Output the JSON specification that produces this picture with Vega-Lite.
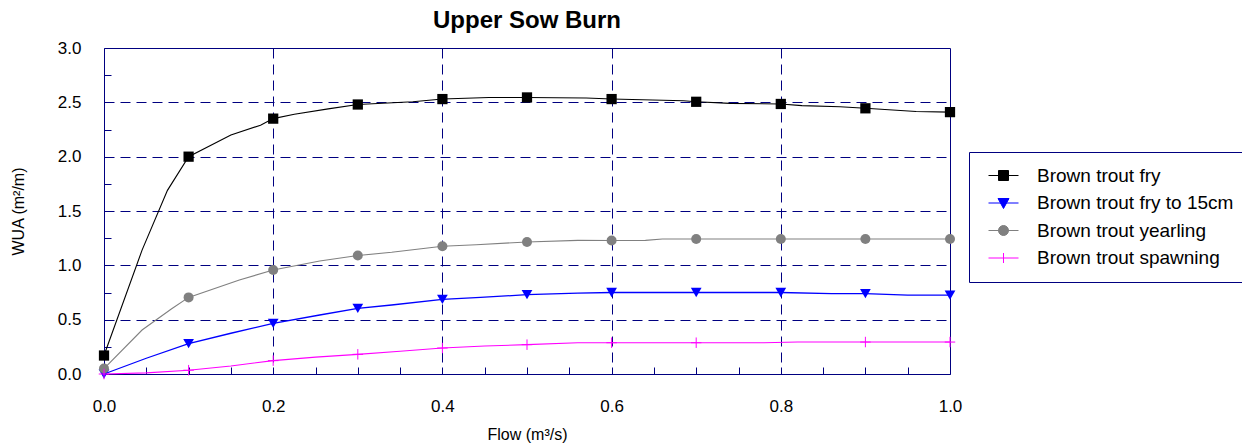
{
  "$schema": "https://vega.github.io/schema/vega-lite/v6.json",
  "width": 846,
  "height": 326,
  "autosize": {"type": "none"},
  "padding": {"left": 104, "top": 48, "right": 292, "bottom": 72},
  "background": "white",
  "config": {
    "view": {"stroke": "#000080", "strokeWidth": 1},
    "font": "Liberation Sans"
  },
  "title": {
    "text": "Upper Sow Burn",
    "font": "Liberation Sans",
    "fontSize": 24,
    "fontWeight": "bold",
    "color": "black",
    "anchor": "middle",
    "frame": "group",
    "baseline": "alphabetic",
    "offset": 10,
    "dy": 23
  },
  "data": {
    "values": [
      {"series": "Brown trout fry", "flow": 0, "wua": 0.17},
      {"series": "Brown trout fry", "flow": 0.045, "wua": 1.14},
      {"series": "Brown trout fry", "flow": 0.075, "wua": 1.69},
      {"series": "Brown trout fry", "flow": 0.1, "wua": 2.0},
      {"series": "Brown trout fry", "flow": 0.15, "wua": 2.2},
      {"series": "Brown trout fry", "flow": 0.185, "wua": 2.29},
      {"series": "Brown trout fry", "flow": 0.2, "wua": 2.35},
      {"series": "Brown trout fry", "flow": 0.225, "wua": 2.39},
      {"series": "Brown trout fry", "flow": 0.265, "wua": 2.44},
      {"series": "Brown trout fry", "flow": 0.3, "wua": 2.48},
      {"series": "Brown trout fry", "flow": 0.365, "wua": 2.505},
      {"series": "Brown trout fry", "flow": 0.4, "wua": 2.53},
      {"series": "Brown trout fry", "flow": 0.455, "wua": 2.545},
      {"series": "Brown trout fry", "flow": 0.5, "wua": 2.545},
      {"series": "Brown trout fry", "flow": 0.57, "wua": 2.54},
      {"series": "Brown trout fry", "flow": 0.6, "wua": 2.53},
      {"series": "Brown trout fry", "flow": 0.685, "wua": 2.515},
      {"series": "Brown trout fry", "flow": 0.7, "wua": 2.505},
      {"series": "Brown trout fry", "flow": 0.74, "wua": 2.49},
      {"series": "Brown trout fry", "flow": 0.8, "wua": 2.485},
      {"series": "Brown trout fry", "flow": 0.825, "wua": 2.47},
      {"series": "Brown trout fry", "flow": 0.87, "wua": 2.46},
      {"series": "Brown trout fry", "flow": 0.9, "wua": 2.445},
      {"series": "Brown trout fry", "flow": 0.96, "wua": 2.415},
      {"series": "Brown trout fry", "flow": 1.0, "wua": 2.41},

      {"series": "Brown trout fry to 15cm", "flow": 0, "wua": 0.0},
      {"series": "Brown trout fry to 15cm", "flow": 0.05, "wua": 0.145},
      {"series": "Brown trout fry to 15cm", "flow": 0.1, "wua": 0.28},
      {"series": "Brown trout fry to 15cm", "flow": 0.15, "wua": 0.375},
      {"series": "Brown trout fry to 15cm", "flow": 0.2, "wua": 0.466},
      {"series": "Brown trout fry to 15cm", "flow": 0.255, "wua": 0.543},
      {"series": "Brown trout fry to 15cm", "flow": 0.3, "wua": 0.604},
      {"series": "Brown trout fry to 15cm", "flow": 0.34, "wua": 0.635},
      {"series": "Brown trout fry to 15cm", "flow": 0.4, "wua": 0.687},
      {"series": "Brown trout fry to 15cm", "flow": 0.445, "wua": 0.705},
      {"series": "Brown trout fry to 15cm", "flow": 0.5, "wua": 0.73},
      {"series": "Brown trout fry to 15cm", "flow": 0.56, "wua": 0.745},
      {"series": "Brown trout fry to 15cm", "flow": 0.6, "wua": 0.75},
      {"series": "Brown trout fry to 15cm", "flow": 0.7, "wua": 0.75},
      {"series": "Brown trout fry to 15cm", "flow": 0.8, "wua": 0.75},
      {"series": "Brown trout fry to 15cm", "flow": 0.86, "wua": 0.74},
      {"series": "Brown trout fry to 15cm", "flow": 0.9, "wua": 0.74},
      {"series": "Brown trout fry to 15cm", "flow": 0.95, "wua": 0.725},
      {"series": "Brown trout fry to 15cm", "flow": 1.0, "wua": 0.725},

      {"series": "Brown trout yearling", "flow": 0, "wua": 0.05},
      {"series": "Brown trout yearling", "flow": 0.045, "wua": 0.405},
      {"series": "Brown trout yearling", "flow": 0.08, "wua": 0.6},
      {"series": "Brown trout yearling", "flow": 0.1, "wua": 0.705},
      {"series": "Brown trout yearling", "flow": 0.16, "wua": 0.865},
      {"series": "Brown trout yearling", "flow": 0.2, "wua": 0.957},
      {"series": "Brown trout yearling", "flow": 0.255, "wua": 1.04},
      {"series": "Brown trout yearling", "flow": 0.3, "wua": 1.09},
      {"series": "Brown trout yearling", "flow": 0.34, "wua": 1.12},
      {"series": "Brown trout yearling", "flow": 0.38, "wua": 1.157},
      {"series": "Brown trout yearling", "flow": 0.4, "wua": 1.175},
      {"series": "Brown trout yearling", "flow": 0.44, "wua": 1.19},
      {"series": "Brown trout yearling", "flow": 0.5, "wua": 1.215},
      {"series": "Brown trout yearling", "flow": 0.56, "wua": 1.23},
      {"series": "Brown trout yearling", "flow": 0.6, "wua": 1.228},
      {"series": "Brown trout yearling", "flow": 0.64, "wua": 1.23},
      {"series": "Brown trout yearling", "flow": 0.66, "wua": 1.242},
      {"series": "Brown trout yearling", "flow": 0.7, "wua": 1.242},
      {"series": "Brown trout yearling", "flow": 0.8, "wua": 1.242},
      {"series": "Brown trout yearling", "flow": 0.9, "wua": 1.242},
      {"series": "Brown trout yearling", "flow": 1.0, "wua": 1.242},

      {"series": "Brown trout spawning", "flow": 0, "wua": 0.0},
      {"series": "Brown trout spawning", "flow": 0.05, "wua": 0.01},
      {"series": "Brown trout spawning", "flow": 0.1, "wua": 0.035},
      {"series": "Brown trout spawning", "flow": 0.15, "wua": 0.074},
      {"series": "Brown trout spawning", "flow": 0.2, "wua": 0.123},
      {"series": "Brown trout spawning", "flow": 0.25, "wua": 0.155},
      {"series": "Brown trout spawning", "flow": 0.3, "wua": 0.181},
      {"series": "Brown trout spawning", "flow": 0.35, "wua": 0.21},
      {"series": "Brown trout spawning", "flow": 0.4, "wua": 0.239},
      {"series": "Brown trout spawning", "flow": 0.45, "wua": 0.258},
      {"series": "Brown trout spawning", "flow": 0.5, "wua": 0.27},
      {"series": "Brown trout spawning", "flow": 0.56, "wua": 0.288},
      {"series": "Brown trout spawning", "flow": 0.6, "wua": 0.288},
      {"series": "Brown trout spawning", "flow": 0.7, "wua": 0.288},
      {"series": "Brown trout spawning", "flow": 0.78, "wua": 0.288},
      {"series": "Brown trout spawning", "flow": 0.82, "wua": 0.294},
      {"series": "Brown trout spawning", "flow": 0.9, "wua": 0.294},
      {"series": "Brown trout spawning", "flow": 1.0, "wua": 0.294}
    ]
  },
  "encoding": {
    "x": {
      "field": "flow",
      "type": "quantitative",
      "title": "Flow (m³/s)",
      "scale": {"domain": [0, 1], "nice": false, "zero": false},
      "axis": {
        "values": [0, 0.05, 0.1, 0.15, 0.2, 0.25, 0.3, 0.35, 0.4, 0.45, 0.5, 0.55, 0.6, 0.65, 0.7, 0.75, 0.8, 0.85, 0.9, 0.95, 1],
        "labelExpr": "abs(datum.value*5-round(datum.value*5))<0.001 ? format(datum.value,'.1f') : ''",
        "labelOverlap": false,
        "labelFlush": false,
        "labelFont": "Liberation Sans",
        "labelFontSize": 17,
        "labelColor": "black",
        "labelPadding": 31,
        "domain": false,
        "ticks": true,
        "tickSize": -7,
        "tickColor": "#000080",
        "tickWidth": 1,
        "grid": true,
        "gridColor": "#000080",
        "gridWidth": 1,
        "gridDash": [10, 6],
        "gridOpacity": {"condition": {"test": "abs(datum.value*5-round(datum.value*5))<0.001 && datum.value > 0.01 && datum.value < 0.99", "value": 1}, "value": 0},
        "titleFont": "Liberation Sans",
        "titleFontSize": 16,
        "titleFontWeight": "normal",
        "titleColor": "black",
        "titlePadding": 12
      }
    },
    "y": {
      "field": "wua",
      "type": "quantitative",
      "title": "WUA (m²/m)",
      "scale": {"domain": [0, 3], "nice": false, "zero": false},
      "axis": {
        "values": [0, 0.25, 0.5, 0.75, 1, 1.25, 1.5, 1.75, 2, 2.25, 2.5, 2.75, 3],
        "labelExpr": "abs(datum.value*2-round(datum.value*2))<0.001 ? format(datum.value,'.1f') : ''",
        "labelOverlap": false,
        "labelFlush": false,
        "labelFont": "Liberation Sans",
        "labelFontSize": 17,
        "labelColor": "black",
        "labelPadding": 30,
        "domain": false,
        "ticks": true,
        "tickSize": -7,
        "tickColor": "#000080",
        "tickWidth": 1,
        "grid": true,
        "gridColor": "#000080",
        "gridWidth": 1,
        "gridDash": [10, 6],
        "gridOpacity": {"condition": {"test": "abs(datum.value*2-round(datum.value*2))<0.001 && datum.value > 0.01 && datum.value < 2.99", "value": 1}, "value": 0},
        "titleFont": "Liberation Sans",
        "titleFontSize": 16,
        "titleFontWeight": "normal",
        "titleColor": "black",
        "titlePadding": 31
      }
    }
  },
  "layer": [
    {
      "transform": [{"filter": "datum.series === 'Brown trout fry'"}],
      "mark": {"type": "line", "strokeWidth": 1.1, "color": "#000000"}
    },
    {
      "transform": [{"filter": "datum.series === 'Brown trout fry to 15cm'"}],
      "mark": {"type": "line", "strokeWidth": 1.3, "color": "#0000FF"}
    },
    {
      "transform": [{"filter": "datum.series === 'Brown trout yearling'"}],
      "mark": {"type": "line", "strokeWidth": 1.1, "color": "#808080"}
    },
    {
      "transform": [{"filter": "datum.series === 'Brown trout spawning'"}],
      "mark": {"type": "line", "strokeWidth": 1.1, "color": "#FF00FF"}
    },
    {
      "transform": [
        {"filter": "datum.series === 'Brown trout fry' && abs(datum.flow*10-round(datum.flow*10))<0.001"}
      ],
      "mark": {"type": "point", "shape": "square", "size": 105, "filled": true, "color": "#000000", "opacity": 1}
    },
    {
      "transform": [
        {"filter": "datum.series === 'Brown trout fry to 15cm' && abs(datum.flow*10-round(datum.flow*10))<0.001"}
      ],
      "mark": {"type": "point", "shape": "triangle-down", "size": 115, "filled": true, "color": "#0000FF", "opacity": 1}
    },
    {
      "transform": [
        {"filter": "datum.series === 'Brown trout yearling' && abs(datum.flow*10-round(datum.flow*10))<0.001"}
      ],
      "mark": {"type": "point", "shape": "circle", "size": 100, "filled": true, "color": "#808080", "opacity": 1}
    },
    {
      "transform": [
        {"filter": "datum.series === 'Brown trout spawning' && abs(datum.flow*10-round(datum.flow*10))<0.001"}
      ],
      "mark": {"type": "point", "shape": "M-1,0H1M0,-1V1", "size": 110, "filled": false, "color": "#FF00FF", "strokeWidth": 1, "opacity": 1}
    },
    {
      "mark": {"type": "point", "filled": true, "strokeWidth": 1, "opacity": 0},
      "encoding": {
        "fill": {
          "field": "series",
          "type": "nominal",
          "scale": {"domain": ["Brown trout fry", "Brown trout fry to 15cm", "Brown trout yearling", "Brown trout spawning"], "range": ["#000000", "#0000FF", "#808080", "#FF00FF"]},
          "legend": {"orient": "none", "legendX": 865, "legendY": 104, "title": null, "labelFont": "Liberation Sans", "labelFontSize": 19, "labelLimit": 0, "labelColor": "black", "symbolSize": 100, "symbolStrokeWidth": 1, "symbolOpacity": 1, "padding": 14, "rowPadding": 7.5, "labelOffset": 24, "symbolOffset": 11, "strokeColor": "#000080"}
        },
        "stroke": {
          "field": "series",
          "type": "nominal",
          "scale": {"domain": ["Brown trout fry", "Brown trout fry to 15cm", "Brown trout yearling", "Brown trout spawning"], "range": ["#000000", "#0000FF", "#808080", "#FF00FF"]},
          "legend": {"orient": "none", "legendX": 865, "legendY": 104, "title": null, "labelFont": "Liberation Sans", "labelFontSize": 19, "labelLimit": 0, "labelColor": "black", "symbolSize": 100, "symbolStrokeWidth": 1, "symbolOpacity": 1, "padding": 14, "rowPadding": 7.5, "labelOffset": 24, "symbolOffset": 11, "strokeColor": "#000080"}
        },
        "shape": {
          "field": "series",
          "type": "nominal",
          "scale": {"domain": ["Brown trout fry", "Brown trout fry to 15cm", "Brown trout yearling", "Brown trout spawning"], "range": ["M-3,0H3M-1,-1H1V1H-1Z", "M-3,0H3M-1.1,-0.9H1.1L0,1.1Z", "M-3,0H3M-1,0A1,1,0,1,1,1,0A1,1,0,1,1,-1,0Z", "M-3,0H3M0,-1V1"]},
          "legend": {"orient": "none", "legendX": 865, "legendY": 104, "title": null, "labelFont": "Liberation Sans", "labelFontSize": 19, "labelLimit": 0, "labelColor": "black", "symbolSize": 100, "symbolStrokeWidth": 1, "symbolOpacity": 1, "padding": 14, "rowPadding": 7.5, "labelOffset": 24, "symbolOffset": 11, "strokeColor": "#000080"}
        }
      }
    }
  ]
}
